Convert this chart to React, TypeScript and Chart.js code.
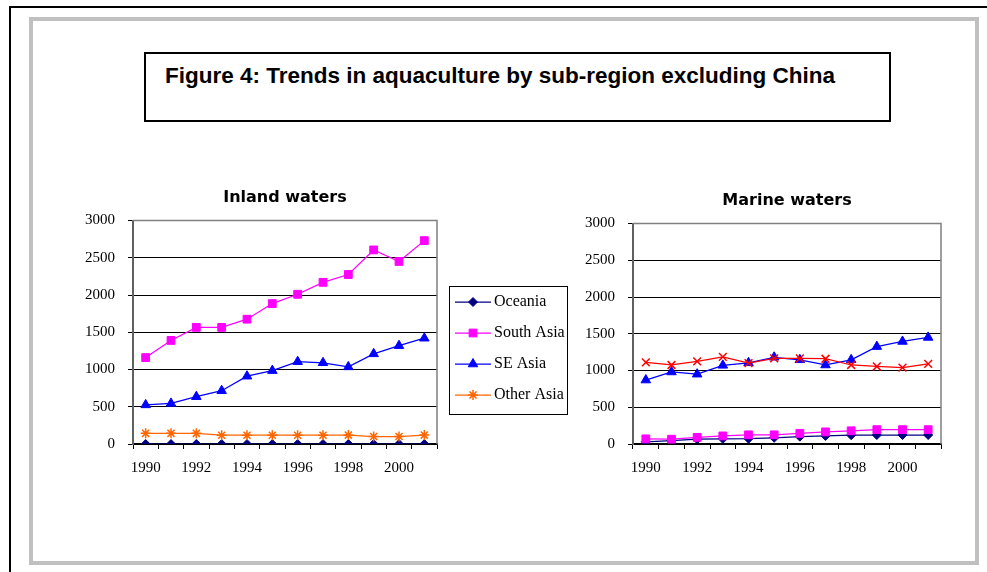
import React, { useEffect, useRef } from 'react';
import { Chart, registerables } from 'chart.js';

Chart.register(...registerables);

// ---------- data ----------
const years = ['1990', '1991', '1992', '1993', '1994', '1995', '1996', '1997', '1998', '1999', '2000', '2001'];
const seriesNames = ['Oceania', 'South Asia', 'SE Asia', 'Other Asia'];

const inlandOceania = [0, 0, 0, 0, 0, 0, 0, 0, 0, 0, 0, 0];
const inlandSouthAsia = [1160, 1390, 1565, 1565, 1675, 1885, 2010, 2170, 2275, 2605, 2450, 2730];
const inlandSEAsia = [525, 545, 635, 715, 910, 985, 1105, 1090, 1035, 1210, 1320, 1420];
const inlandOtherAsia = [143, 143, 143, 118, 118, 118, 118, 118, 120, 100, 100, 120];

const marineOceania = [30, 45, 65, 70, 72, 85, 100, 110, 120, 122, 122, 122];
const marineSouthAsia = [70, 65, 90, 110, 125, 125, 145, 165, 180, 195, 195, 195];
const marineSEAsia = [870, 980, 950, 1070, 1105, 1180, 1145, 1075, 1145, 1325, 1395, 1450];
const marineOtherAsia = [1110, 1075, 1125, 1185, 1100, 1165, 1165, 1160, 1075, 1055, 1040, 1090];

const yMin = 0;
const yMax = 3000;
const yStep = 500;

const chartTitles = ['Inland waters', 'Marine waters'];
const figureTitle = 'Figure 4: Trends in aquaculture by sub-region excluding China';

// ---------- styles ----------
const NAVY = '#000080';
const MAGENTA = '#FF00FF';
const BLUE = '#0000FF';
const ORANGE = '#FF6600';
const RED = '#FF0000';

const axisFont = { family: '"Liberation Serif", "Times New Roman", serif', size: 15 };
const titleFont = { family: '"DejaVu Sans", Verdana, sans-serif', size: 16, weight: 'bold' as const };

type Marker = { color: string; style: string; radius: number; bw: number };
const inlandMarkers: Marker[] = [
  { color: NAVY, style: 'rectRot', radius: 4.5, bw: 1 },
  { color: MAGENTA, style: 'rect', radius: 5.5, bw: 1 },
  { color: BLUE, style: 'triangle', radius: 5.5, bw: 1 },
  { color: ORANGE, style: 'star', radius: 5, bw: 1.5 },
];
const marineMarkers: Marker[] = [
  { color: NAVY, style: 'rectRot', radius: 4.5, bw: 1 },
  { color: MAGENTA, style: 'rect', radius: 5.5, bw: 1 },
  { color: BLUE, style: 'triangle', radius: 5.5, bw: 1 },
  { color: RED, style: 'crossRot', radius: 5.5, bw: 1.5 },
];

function makeDataset(label: string, data: number[], m: Marker, idx: number) {
  return {
    label,
    data,
    borderColor: m.color,
    backgroundColor: m.color,
    pointBackgroundColor: m.color,
    pointBorderColor: m.color,
    pointStyle: m.style,
    pointRadius: m.radius,
    pointHoverRadius: m.radius,
    pointBorderWidth: m.bw,
    borderWidth: 1.25,
    tension: 0,
    fill: false,
    order: 10 - idx,
  };
}

function makeIcon(m: Marker) {
  const c = document.createElement('canvas');
  c.width = 44;
  c.height = 16;
  const ctx = c.getContext('2d')!;
  ctx.strokeStyle = m.color;
  ctx.fillStyle = m.color;
  ctx.lineWidth = 1.25;
  ctx.beginPath();
  ctx.moveTo(8, 8);
  ctx.lineTo(44, 8);
  ctx.stroke();
  const x = 26, y = 8, r = m.radius;
  ctx.lineWidth = m.bw;
  ctx.beginPath();
  if (m.style === 'rectRot') {
    ctx.moveTo(x, y - r); ctx.lineTo(x + r, y); ctx.lineTo(x, y + r); ctx.lineTo(x - r, y); ctx.closePath();
    ctx.fill(); ctx.stroke();
  } else if (m.style === 'rect') {
    const s = r * Math.SQRT1_2;
    ctx.rect(x - s, y - s, 2 * s, 2 * s);
    ctx.fill(); ctx.stroke();
  } else if (m.style === 'triangle') {
    ctx.moveTo(x, y - r);
    ctx.lineTo(x + r * Math.sin(Math.PI / 3), y + r / 2);
    ctx.lineTo(x - r * Math.sin(Math.PI / 3), y + r / 2);
    ctx.closePath();
    ctx.fill(); ctx.stroke();
  } else {
    const d = r * Math.SQRT1_2;
    ctx.moveTo(x, y - r); ctx.lineTo(x, y + r);
    ctx.moveTo(x - r, y); ctx.lineTo(x + r, y);
    ctx.moveTo(x - d, y - d); ctx.lineTo(x + d, y + d);
    ctx.moveTo(x - d, y + d); ctx.lineTo(x + d, y - d);
    ctx.stroke();
  }
  return c;
}

const frameBorder = {
  id: 'frameBorder',
  beforeDatasetsDraw(chart: any) {
    const { ctx, chartArea: a } = chart;
    ctx.save();
    ctx.strokeStyle = '#808080';
    ctx.lineWidth = 1.5;
    ctx.beginPath();
    ctx.moveTo(a.left, a.top);
    ctx.lineTo(a.right, a.top);
    ctx.lineTo(a.right, a.bottom);
    ctx.stroke();
    ctx.restore();
  },
};

// give the legend a fixed width so the plot area ends where the reference's does
const LEGEND_W = 140;
const legendFixedWidth = {
  id: 'legendFixedWidth',
  beforeLayout(chart: any) {
    const lg = chart.legend;
    if (lg && !lg._fixedWidth) {
      const origFit = lg.fit;
      lg.fit = function (this: any) {
        origFit.call(this);
        if (this.options.display) this.width = LEGEND_W;
      };
      lg._fixedWidth = true;
    }
  },
};

const legendBox = {
  id: 'legendBox',
  afterDraw(chart: any) {
    const lg = chart.legend;
    if (!lg || !lg.options.display || !lg.legendHitBoxes || !lg.legendHitBoxes.length) return;
    const hb = lg.legendHitBoxes;
    const first = hb[0];
    const last = hb[hb.length - 1];
    const left = Math.round(lg.left + 12) + 0.5;
    const right = Math.round(lg.left + 130) + 0.5;
    const top = Math.round(first.top - 8) + 0.5;
    const bottom = Math.round(last.top + last.height + 11) + 0.5;
    const ctx = chart.ctx;
    ctx.save();
    ctx.strokeStyle = '#000';
    ctx.lineWidth = 1;
    ctx.strokeRect(left, top, right - left, bottom - top);
    ctx.restore();
  },
};

function buildConfig(title: string, datasets: any[], withLegend: boolean, icons: HTMLCanvasElement[] | null, pad: any, yWidth: number) {
  return {
    type: 'line' as const,
    data: { labels: years, datasets },
    options: {
      animation: false as const,
      responsive: false,
      maintainAspectRatio: false,
      events: [],
      layout: { padding: pad },
      plugins: {
        tooltip: { enabled: false },
        title: {
          display: true,
          text: title,
          color: '#000',
          font: titleFont,
          fullSize: false,
          padding: { top: 18.4, bottom: 12.9 },
        },
        legend: withLegend
          ? {
              display: true,
              position: 'right' as const,
              align: 'center' as const,
              labels: {
                usePointStyle: true,
                pointStyleWidth: 34,
                padding: 15,
                color: '#000',
                font: { family: '"Liberation Serif", "Times New Roman", serif', size: 16 },
                generateLabels(chart: any) {
                  const items = (Chart.defaults.plugins.legend.labels as any).generateLabels(chart);
                  items.forEach((it: any) => {
                    it.pointStyle = icons ? icons[it.datasetIndex] : it.pointStyle;
                  });
                  return items.sort((a: any, b: any) => a.datasetIndex - b.datasetIndex);
                },
              },
            }
          : { display: false },
      },
      scales: {
        x: {
          type: 'category' as const,
          offset: true,
          grid: { offset: true, drawOnChartArea: false, drawTicks: true, tickLength: 5, color: '#000', lineWidth: 1 },
          border: { display: true, color: '#000', width: 1.5 },
          ticks: {
            autoSkip: false,
            maxRotation: 0,
            minRotation: 0,
            padding: 10,
            color: '#000',
            font: axisFont,
            callback: (_v: any, i: number) => (i % 2 === 0 ? years[i] : ''),
          },
          afterFit: (s: any) => {
            s.height = 83;
          },
        },
        y: {
          min: yMin,
          max: yMax,
          ticks: { stepSize: yStep, padding: 13, color: '#000', font: axisFont, callback: (v: any) => String(v) },
          grid: { color: '#000', lineWidth: 1, tickLength: 5 },
          border: { display: true, color: '#606060', width: 2 },
          afterFit: (s: any) => {
            s.width = yWidth;
          },
        },
      },
    },
    plugins: withLegend ? [legendFixedWidth, frameBorder, legendBox] : [frameBorder],
  };
}

function InlandChart() {
  const ref = useRef<HTMLCanvasElement>(null);
  useEffect(() => {
    const icons = inlandMarkers.map(makeIcon);
    const values = [inlandOceania, inlandSouthAsia, inlandSEAsia, inlandOtherAsia];
    const datasets = values.map((d, i) => makeDataset(seriesNames[i], d, inlandMarkers[i], i));
    const chart = new Chart(
      ref.current as HTMLCanvasElement,
      buildConfig(chartTitles[0], datasets, true, icons, { left: 0, right: 0, top: 0, bottom: 23 }, 73) as any
    );
    return () => chart.destroy();
  }, []);
  return (
    <canvas
      ref={ref}
      width={517}
      height={380}
      style={{ position: 'absolute', left: 60, top: 170, width: 517, height: 380 }}
    />
  );
}

function MarineChart() {
  const ref = useRef<HTMLCanvasElement>(null);
  useEffect(() => {
    const values = [marineOceania, marineSouthAsia, marineSEAsia, marineOtherAsia];
    const datasets = values.map((d, i) => makeDataset(seriesNames[i], d, marineMarkers[i], i));
    const chart = new Chart(
      ref.current as HTMLCanvasElement,
      buildConfig(chartTitles[1], datasets, false, null, { left: 0, right: 19, top: 3, bottom: 23 }, 53) as any
    );
    return () => chart.destroy();
  }, []);
  return (
    <canvas
      ref={ref}
      width={380}
      height={380}
      style={{ position: 'absolute', left: 580, top: 170, width: 380, height: 380 }}
    />
  );
}

export default function App() {
  return (
    <div
      style={{
        position: 'absolute',
        left: 0,
        top: 0,
        width: 987,
        height: 572,
        overflow: 'hidden',
        background: '#fff',
      }}
    >
      <div
        style={{
          position: 'absolute',
          left: 9,
          top: 6,
          width: 978,
          height: 566,
          borderTop: '2px solid #000',
          borderLeft: '2px solid #000',
          boxSizing: 'border-box',
        }}
      />
      <div
        style={{
          position: 'absolute',
          left: 29,
          top: 17,
          width: 950,
          height: 548,
          border: '4px solid #c0c0c0',
          boxSizing: 'border-box',
        }}
      />
      <div
        style={{
          position: 'absolute',
          left: 144,
          top: 52,
          width: 747,
          height: 70,
          border: '2px solid #000',
          boxSizing: 'border-box',
        }}
      />
      <div
        style={{
          position: 'absolute',
          left: 165,
          top: 65,
          fontFamily: '"Liberation Sans", Arial, sans-serif',
          fontWeight: 'bold',
          fontSize: 22.5,
          lineHeight: '22.5px',
          whiteSpace: 'nowrap',
          color: '#000',
        }}
      >
        {figureTitle}
      </div>
      <InlandChart />
      <MarineChart />
    </div>
  );
}
